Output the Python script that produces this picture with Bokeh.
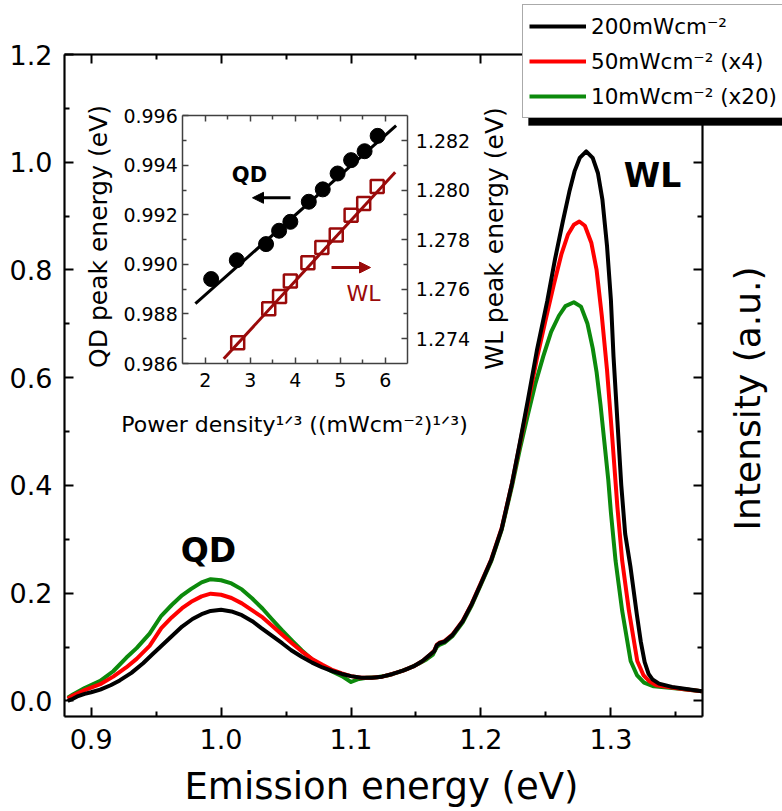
import math

from bokeh.plotting import figure
from bokeh.models import (Range1d, LinearAxis, FixedTicker, PrintfTickFormatter, Label,
                          Legend, LegendItem, Arrow, NormalHead, BoxAnnotation)
from bokeh.embed import file_html
from bokeh.resources import INLINE

# ---------------------------------------------------------------- spectra
black_e = [0.882, 0.886, 0.890, 0.895, 0.900, 0.907, 0.915, 0.922, 0.931, 0.940,
           0.947, 0.954, 0.962, 0.970, 0.978, 0.985, 0.992, 1.000, 1.008, 1.016,
           1.024, 1.031, 1.039, 1.047, 1.054, 1.062, 1.070, 1.078, 1.086, 1.093,
           1.100, 1.108, 1.116, 1.124, 1.132, 1.140, 1.148, 1.155, 1.160, 1.164,
           1.166, 1.168, 1.172, 1.178, 1.186, 1.193, 1.200, 1.208, 1.216, 1.224,
           1.230, 1.236, 1.243, 1.251, 1.257, 1.263, 1.268, 1.272, 1.276, 1.281,
           1.286, 1.290, 1.2935, 1.297, 1.300, 1.302, 1.305, 1.308, 1.311, 1.315,
           1.320, 1.323, 1.326, 1.329, 1.332, 1.337, 1.347, 1.358, 1.370]
black_i = [0.000, 0.004, 0.009, 0.013, 0.016, 0.021, 0.029, 0.038, 0.052, 0.070,
           0.086, 0.102, 0.120, 0.138, 0.152, 0.161, 0.167, 0.169, 0.166, 0.159,
           0.148, 0.135, 0.121, 0.107, 0.094, 0.082, 0.071, 0.062, 0.055, 0.050,
           0.046, 0.043, 0.043, 0.045, 0.050, 0.056, 0.064, 0.074, 0.084, 0.092,
           0.103, 0.107, 0.110, 0.122, 0.148, 0.180, 0.218, 0.262, 0.320, 0.405,
           0.480, 0.557, 0.650, 0.742, 0.820, 0.890, 0.945, 0.983, 1.008, 1.020,
           1.008, 0.980, 0.930, 0.845, 0.745, 0.640, 0.520, 0.400, 0.310, 0.250,
           0.160, 0.110, 0.072, 0.050, 0.040, 0.032, 0.026, 0.022, 0.018]

red_e = [0.882, 0.886, 0.895, 0.907, 0.917, 0.927, 0.935, 0.945, 0.954, 0.962,
         0.970, 0.977, 0.985, 0.992, 1.000, 1.008, 1.016, 1.024, 1.032, 1.039,
         1.047, 1.055, 1.062, 1.070, 1.078, 1.085, 1.093, 1.100, 1.108, 1.116,
         1.124, 1.132, 1.140, 1.148, 1.155, 1.160, 1.164, 1.166, 1.168, 1.172,
         1.178, 1.186, 1.193, 1.200, 1.208, 1.216, 1.224, 1.230, 1.236, 1.243,
         1.250, 1.256, 1.262, 1.267, 1.2715, 1.2757, 1.280, 1.285, 1.289, 1.293,
         1.297, 1.301, 1.305, 1.3087, 1.3139, 1.3203, 1.325, 1.3293, 1.335, 1.347,
         1.358, 1.370]
red_i = [0.004, 0.010, 0.020, 0.031, 0.045, 0.062, 0.078, 0.102, 0.135, 0.155,
         0.172, 0.184, 0.194, 0.199, 0.197, 0.191, 0.181, 0.168, 0.155, 0.140,
         0.123, 0.106, 0.092, 0.078, 0.067, 0.058, 0.051, 0.046, 0.043, 0.043,
         0.045, 0.050, 0.056, 0.064, 0.074, 0.084, 0.093, 0.104, 0.108, 0.111,
         0.123, 0.149, 0.181, 0.219, 0.263, 0.321, 0.405, 0.478, 0.550, 0.635,
         0.710, 0.772, 0.830, 0.866, 0.884, 0.890, 0.882, 0.850, 0.800, 0.715,
         0.615, 0.490, 0.360, 0.260, 0.167, 0.074, 0.048, 0.037, 0.029, 0.025,
         0.021, 0.018]

green_e = [0.882, 0.886, 0.895, 0.907, 0.917, 0.927, 0.935, 0.945, 0.954, 0.962,
           0.970, 0.977, 0.985, 0.992, 1.000, 1.008, 1.016, 1.024, 1.032, 1.039,
           1.047, 1.055, 1.062, 1.070, 1.078, 1.085, 1.093, 1.100, 1.105, 1.112,
           1.120, 1.128, 1.136, 1.144, 1.152, 1.158, 1.163, 1.166, 1.168, 1.172,
           1.178, 1.186, 1.193, 1.200, 1.208, 1.216, 1.224, 1.230, 1.236, 1.242,
           1.248, 1.254, 1.260, 1.265, 1.2715, 1.277, 1.282, 1.286, 1.289, 1.292,
           1.295, 1.298, 1.300, 1.3036, 1.3087, 1.3152, 1.320, 1.3255, 1.333, 1.347,
           1.358, 1.370]
green_i = [0.006, 0.012, 0.024, 0.037, 0.055, 0.080, 0.098, 0.125, 0.158, 0.178,
           0.196, 0.208, 0.220, 0.226, 0.224, 0.218, 0.207, 0.190, 0.171, 0.152,
           0.131, 0.111, 0.094, 0.077, 0.065, 0.055, 0.046, 0.035, 0.040, 0.043,
           0.044, 0.047, 0.053, 0.060, 0.069, 0.077, 0.086, 0.100, 0.104, 0.108,
           0.120, 0.146, 0.178, 0.216, 0.260, 0.318, 0.400, 0.468, 0.530, 0.590,
           0.640, 0.685, 0.715, 0.733, 0.740, 0.732, 0.700, 0.655, 0.610, 0.550,
           0.480, 0.410, 0.350, 0.260, 0.167, 0.074, 0.048, 0.034, 0.027, 0.024,
           0.021, 0.018]

series_labels = ["200mWcm\u207b\u00b2", "50mWcm\u207b\u00b2 (x4)", "10mWcm\u207b\u00b2 (x20)"]

# ---------------------------------------------------------------- inset: peak energies
qd_power = [2.13, 2.70, 3.35, 3.64, 3.89, 4.30, 4.61, 4.94, 5.24, 5.54, 5.83]
qd_peak = [0.98941, 0.99017, 0.99082, 0.99136, 0.99172, 0.99253, 0.99303, 0.99367,
           0.99421, 0.99457, 0.99519]
qd_fit_x = [1.78, 6.24]
qd_fit_y = [0.98842, 0.99560]

wl_power = [2.72, 3.41, 3.65, 3.89, 4.28, 4.59, 4.91, 5.24, 5.52, 5.82]
wl_peak = [1.27384, 1.27521, 1.27570, 1.27633, 1.27707, 1.27768, 1.27819, 1.27899,
           1.27946, 1.28015]
wl_fit_x = [2.41, 6.22]
wl_fit_y = [1.27319, 1.28072]

# ---------------------------------------------------------------- axes limits and ticks
X_LIM = (0.8795, 1.3705)
Y_LIM = (-0.029, 1.2)
x_ticks = [0.9, 1.0, 1.1, 1.2, 1.3]
x_minor = [0.95, 1.05, 1.15, 1.25, 1.35]
y_ticks = [0.0, 0.2, 0.4, 0.6, 0.8, 1.0, 1.2]
y_minor = [0.1, 0.3, 0.5, 0.7, 0.9, 1.1]

IX_LIM = (1.5, 6.5)
IYL_LIM = (0.986, 0.996)
IYR_LIM = (1.273, 1.283)
ix_ticks = [2, 3, 4, 5, 6]
ix_minor = [2.5, 3.5, 4.5, 5.5]
iyl_ticks = [0.986, 0.988, 0.990, 0.992, 0.994, 0.996]
iyl_minor = [0.987, 0.989, 0.991, 0.993, 0.995]
iyr_ticks = [1.274, 1.276, 1.278, 1.280, 1.282]
iyr_minor = [1.275, 1.277, 1.279, 1.281]

# ---------------------------------------------------------------- layout (canvas pixels)
W, H = 782, 811
FL, FR, FT, FB = 64, 702, 54, 716            # main plot box
IL, IR, IT, IB = 182.3, 407.3, 115.3, 363.0  # inset box
FONT = "DejaVu Sans"
DARK_RED = "#9a0a0a"
GREEN = "#0c8a0c"
RED = "#ff0000"


def main_x(px):
    return X_LIM[0] + (px - FL) / (FR - FL) * (X_LIM[1] - X_LIM[0])


def main_y(py):
    return Y_LIM[1] - (py - FT) / (FB - FT) * (Y_LIM[1] - Y_LIM[0])


def inset_x(px):
    return IX_LIM[0] + (px - IL) / (IR - IL) * (IX_LIM[1] - IX_LIM[0])


def inset_y(py, lim):
    return lim[0] + (IB - py) / (IB - IT) * (lim[1] - lim[0])


# The drawing area covers the whole canvas; both boxes are placed inside it through
# their ranges, and their axes are pinned to the box edges.
p = figure(width=W, height=H,
           x_range=Range1d(main_x(0), main_x(W)), y_range=Range1d(main_y(H), main_y(0)),
           x_axis_location=None, y_axis_location=None,
           min_border=0, min_border_left=0, min_border_right=0,
           min_border_top=0, min_border_bottom=0,
           output_backend="svg", toolbar_location=None)
p.grid.visible = False
p.outline_line_color = None
p.background_fill_color = "white"
p.border_fill_color = "white"

p.extra_x_ranges = {"ix": Range1d(inset_x(0), inset_x(W))}
p.extra_y_ranges = {"iyl": Range1d(inset_y(H, IYL_LIM), inset_y(0, IYL_LIM)),
                    "iyr": Range1d(inset_y(H, IYR_LIM), inset_y(0, IYR_LIM))}


def add_axis(side, ticks, minor, fmt, color, width, major_in, minor_in,
             font_size, standoff, **kw):
    ax = LinearAxis(ticker=FixedTicker(ticks=ticks, minor_ticks=minor),
                    formatter=PrintfTickFormatter(format=fmt), **kw)
    ax.axis_line_color = color
    ax.axis_line_width = width
    ax.major_tick_line_color = color
    ax.minor_tick_line_color = color
    ax.major_tick_line_width = width
    ax.minor_tick_line_width = width
    ax.major_tick_in = major_in
    ax.major_tick_out = 0
    ax.minor_tick_in = minor_in
    ax.minor_tick_out = 0
    ax.major_label_standoff = standoff
    ax.major_label_text_font = FONT
    if font_size is None:
        ax.major_label_text_color = None
    else:
        ax.major_label_text_font_size = font_size
        ax.major_label_text_color = "black"
    p.add_layout(ax, side)


# main box
add_axis("below", x_ticks, x_minor, "%.1f", "black", 2, 9, 5, "27px", 12,
         fixed_location=Y_LIM[0], bounds=X_LIM)
add_axis("above", x_ticks, x_minor, "%.1f", "black", 2, 9, 5, None, 12,
         fixed_location=Y_LIM[1], bounds=X_LIM)
add_axis("left", y_ticks, y_minor, "%.1f", "black", 2, 9, 5, "27px", 12,
         fixed_location=X_LIM[0], bounds=Y_LIM)
add_axis("right", y_ticks, y_minor, "%.1f", "black", 2, 9, 5, None, 12,
         fixed_location=X_LIM[1], bounds=Y_LIM)
p.add_layout(BoxAnnotation(left=X_LIM[0], right=X_LIM[1], bottom=Y_LIM[0], top=Y_LIM[1],
                           fill_color=None, line_color="black", line_width=2))

# inset box
add_axis("below", ix_ticks, ix_minor, "%d", "#404040", 1.5, 6, 4, "19px", 9,
         x_range_name="ix", y_range_name="iyl", fixed_location=IYL_LIM[0], bounds=IX_LIM)
add_axis("above", ix_ticks, ix_minor, "%d", "#404040", 1.5, 6, 4, None, 5,
         x_range_name="ix", y_range_name="iyl", fixed_location=IYL_LIM[1], bounds=IX_LIM)
add_axis("left", iyl_ticks, iyl_minor, "%.3f", "#404040", 1.5, 6, 4, "19px", 5,
         x_range_name="ix", y_range_name="iyl", fixed_location=IX_LIM[0], bounds=IYL_LIM)
add_axis("right", iyr_ticks, iyr_minor, "%.3f", "#404040", 1.5, 6, 4, "19px", 8,
         x_range_name="ix", y_range_name="iyr", fixed_location=IX_LIM[1], bounds=IYR_LIM)

# ---------------------------------------------------------------- spectra
r_green = p.line(green_e, green_i, line_color=GREEN, line_width=4, line_join="round")
r_red = p.line(red_e, red_i, line_color=RED, line_width=4, line_join="round")
r_black = p.line(black_e, black_i, line_color="black", line_width=4, line_join="round")

# ---------------------------------------------------------------- inset data
p.line(qd_fit_x, qd_fit_y, x_range_name="ix", y_range_name="iyl",
       line_color="black", line_width=3)
p.scatter(qd_power, qd_peak, x_range_name="ix", y_range_name="iyl",
          marker="circle", size=15, fill_color="black", line_color="black")
p.line(wl_fit_x, wl_fit_y, x_range_name="ix", y_range_name="iyr",
       line_color=DARK_RED, line_width=3)
p.scatter(wl_power, wl_peak, x_range_name="ix", y_range_name="iyr",
          marker="square", size=13, fill_color=None, line_color=DARK_RED, line_width=2.5)

p.add_layout(Arrow(x_start=inset_x(290), y_start=inset_y(197.3, IYL_LIM),
                   x_end=inset_x(252), y_end=inset_y(197.3, IYL_LIM),
                   x_range_name="ix", y_range_name="iyl",
                   line_color="black", line_width=3,
                   end=NormalHead(size=11, fill_color="black", line_color="black")))
p.add_layout(Arrow(x_start=inset_x(331), y_start=inset_y(267, IYR_LIM),
                   x_end=inset_x(370), y_end=inset_y(267, IYR_LIM),
                   x_range_name="ix", y_range_name="iyr",
                   line_color=DARK_RED, line_width=3,
                   end=NormalHead(size=11, fill_color=DARK_RED, line_color=DARK_RED)))


def text_at(px, py, text, size, color="black", style="normal", angle=0.0):
    p.add_layout(Label(x=main_x(px), y=main_y(py), text=text, angle=angle,
                       text_font=FONT, text_font_size=size, text_font_style=style,
                       text_color=color, text_align="center", text_baseline="middle"))


# peak tags
text_at(208, 550, "QD", "33px", style="bold")
text_at(652, 175, "WL", "33px", style="bold")
text_at(249, 174, "QD", "21px", style="bold")
text_at(363, 293, "WL", "22px", color=DARK_RED)

# axis titles
text_at(381, 786, "Emission energy (eV)", "37px")
text_at(747, 398, "Intensity (a.u.)", "36px", angle=math.pi / 2)
text_at(98, 236, "QD peak energy (eV)", "25px", angle=math.pi / 2)
text_at(494, 238, "WL peak energy (eV)", "25px", angle=math.pi / 2)
text_at(294, 424, "Power density\u00b9\u141f\u00b3 ((mWcm\u207b\u00b2)\u00b9\u141f\u00b3)", "22px")

# ---------------------------------------------------------------- legend with drop shadow
LEG_LEFT, LEG_TOP = 522, 6
LEG_PAD, LEG_ROW, LEG_GAP = 6, 30, 5
SHADOW = (6, 7)
leg_height = 2 * LEG_PAD + 3 * LEG_ROW + 2 * LEG_GAP
leg_bottom = LEG_TOP + leg_height

p.add_layout(BoxAnnotation(left=main_x(LEG_LEFT + SHADOW[0]), right=main_x(W + 20),
                           top=main_y(LEG_TOP + SHADOW[1]), bottom=main_y(leg_bottom + SHADOW[1]),
                           fill_color="black", fill_alpha=1.0, line_color="black"))

legend = Legend(items=[LegendItem(label=lab, renderers=[r])
                       for lab, r in zip(series_labels, (r_black, r_red, r_green))],
                location=(LEG_LEFT, H - leg_bottom),
                orientation="vertical", margin=0, padding=LEG_PAD, spacing=LEG_GAP,
                glyph_width=57, glyph_height=LEG_ROW, label_height=LEG_ROW,
                label_width=250, label_standoff=5,
                label_text_font=FONT, label_text_font_size="21.5px",
                label_text_color="black",
                background_fill_color="white", background_fill_alpha=1.0,
                border_line_color="#555555", border_line_width=1.5)
p.add_layout(legend)

open("out.html", "w").write(file_html(p, INLINE))
